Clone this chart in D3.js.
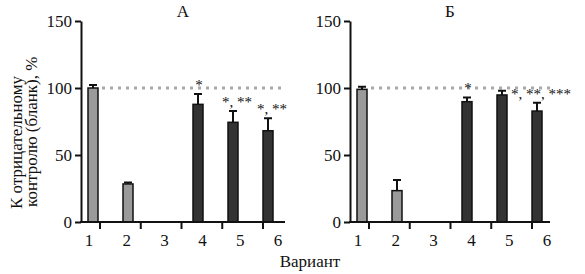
<!DOCTYPE html>
<html>
<head>
  <meta charset="utf-8">
  <title>Variants</title>
  <script src="https://cdn.jsdelivr.net/npm/d3@7"></script>
</head>
<body style="margin:0">
  <script>
    // the data
    const variants = ["1", "2", "3", "4", "5", "6"];
    const kinds = ["control", "control", null, "test", "test", "test"];
    const valuesA = [100, 28.4, null, 87.8, 74.4, 68.1];
    const errorsA = [2.3, 1.0, null, 7.7, 8.4, 9.3];
    const marksA = ["", "", "", "*", "*, **", "*, **"];
    const valuesB = [99, 23.4, null, 89.8, 94.8, 82.8];
    const errorsB = [2.0, 7.9, null, 3.2, 3.2, 6.2];
    const marksB = ["", "", "", "*", "", "*, **, ***"];
    const yTicks = [0, 50, 100, 150];
    const titles = ["А", "Б"];
    const refLevel = 100;

    const serif = '"Liberation Serif"';
    const width = 585, height = 274;
    let svg = d3.select("body").append("svg")
      .attr("width", width)
      .attr("height", height);

    const plotTop = 21, plotBottom = 222;
    let yScale = d3.scaleLinear().domain([0, 150]).range([plotBottom, plotTop]);

    // every text gets the serif font and dark fill
    function styleText(sel, size) {
      return sel.style("font-family", serif)
        .style("font-size", size + "px")
        .attr("fill", "#111");
    }

    function drawPanel(x0, w, title, values, errors, marks) {
      let g = svg.append("g");
      // scales: bars and tick labels sit a little apart in the original
      let barX = d3.scalePoint().domain(variants).range([x0 + 12, x0 + 187]);
      let labelX = d3.scalePoint().domain(variants).range([x0 + 8, x0 + 197]);
      let tickX = d3.scalePoint().domain(variants.slice(1)).range([x0 + 19, x0 + 182]);
      let barW = 10;

      let rows = variants.map((v, i) => ({
        v: v, kind: kinds[i], value: values[i], err: errors[i], mark: marks[i]
      })).filter(d => d.value != null);

      // dotted reference line
      g.append("line")
        .attr("x1", barX("1") + barW / 2 + 4)
        .attr("x2", x0 + w)
        .attr("y1", yScale(refLevel))
        .attr("y2", yScale(refLevel))
        .attr("stroke", "#a8a8a8")
        .attr("stroke-width", 3)
        .attr("stroke-dasharray", "3,5");

      // error bars
      g.selectAll(".err").data(rows).join("path")
        .attr("d", d => {
          let cx = barX(d.v), y1 = yScale(d.value), y2 = yScale(d.value + d.err);
          return `M${cx},${y1}V${y2}M${cx - 4},${y2}H${cx + 4}`;
        })
        .attr("stroke", "#111")
        .attr("stroke-width", 2)
        .attr("fill", "none");

      // bars
      g.selectAll(".bar").data(rows).join("rect")
        .attr("x", d => barX(d.v) - barW / 2)
        .attr("y", d => yScale(d.value))
        .attr("width", barW)
        .attr("height", d => plotBottom - yScale(d.value))
        .attr("fill", d => d.kind === "control" ? "#9a9a9a" : "#333")
        .attr("stroke", "#111")
        .attr("stroke-width", 1.5);

      // significance marks
      let marksSel = g.selectAll(".mark").data(rows.filter(d => d.mark)).join("text")
        .attr("x", d => barX(d.v) + (d.mark.length > 1 ? 4 : 1))
        .attr("y", d => yScale(d.value + d.err) - 4)
        .attr("text-anchor", "middle")
        .text(d => d.mark);
      styleText(marksSel, 15);

      // y axis
      let yAxis = d3.axisLeft(yScale).tickValues(yTicks).tickSize(6).tickPadding(3).tickSizeOuter(0);
      let yAxisG = g.append("g").attr("transform", `translate(${x0},0)`).call(yAxis)
        .attr("font-family", null).attr("font-size", null);
      yAxisG.select(".domain").attr("stroke-width", 2).attr("stroke", "#111");
      yAxisG.selectAll(".tick line").attr("stroke-width", 2).attr("stroke", "#111");
      styleText(yAxisG.selectAll(".tick text"), 17);

      // x axis
      g.append("line")
        .attr("x1", x0 - 1).attr("x2", x0 + w)
        .attr("y1", plotBottom).attr("y2", plotBottom)
        .attr("stroke", "#111").attr("stroke-width", 2);
      g.selectAll(".xtick").data(tickX.domain()).join("line")
        .attr("x1", d => tickX(d)).attr("x2", d => tickX(d))
        .attr("y1", plotBottom).attr("y2", plotBottom + 7)
        .attr("stroke", "#111").attr("stroke-width", 2);
      let xl = g.selectAll(".xlabel").data(variants).join("text")
        .attr("x", d => labelX(d))
        .attr("y", plotBottom + 24)
        .attr("text-anchor", "middle")
        .text(d => d);
      styleText(xl, 17);

      // title
      styleText(g.append("text")
        .attr("x", x0 + w / 2)
        .attr("y", 17)
        .attr("text-anchor", "middle")
        .text(title), 17);
    }

    drawPanel(81, 204, titles[0], valuesA, errorsA, marksA);
    drawPanel(350, 200, titles[1], valuesB, errorsB, marksB);

    // y label, two lines
    let yLabel = svg.append("g").attr("transform", "translate(0,209) rotate(-90)");
    styleText(yLabel.append("text").attr("x", 0).attr("y", 22).text("К отрицательному"), 17);
    styleText(yLabel.append("text").attr("x", 2).attr("y", 37).text("контролю (бланк), %"), 17);

    // x label
    styleText(svg.append("text")
      .attr("x", 310)
      .attr("y", 267)
      .attr("text-anchor", "middle")
      .text("Вариант"), 17);
  </script>
</body>
</html>
